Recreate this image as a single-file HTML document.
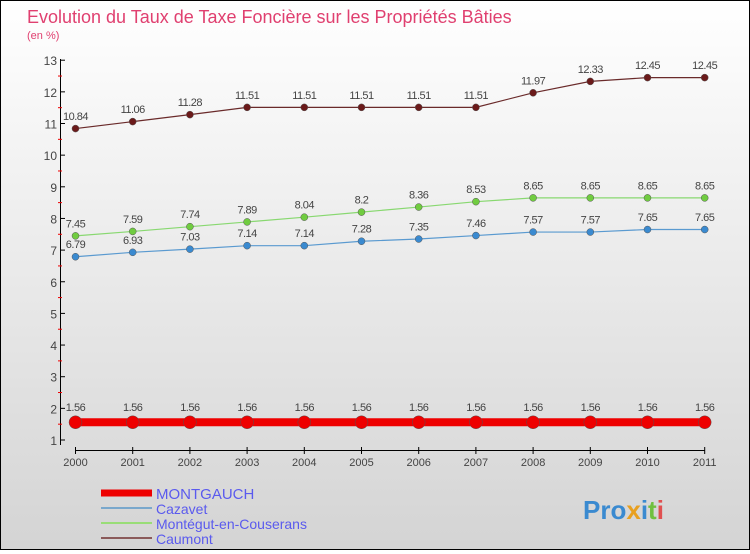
<!DOCTYPE html>
<html><head><meta charset="utf-8"><style>
body{margin:0}
#c{width:748px;height:548px;border:1px solid #000;background:linear-gradient(#fff,#d4d4d4);position:relative;font-family:"Liberation Sans",sans-serif}
</style></head><body>
<div id="c">
<svg width="748" height="548" xmlns="http://www.w3.org/2000/svg" id="s">
<text x="26" y="22" font-size="18" fill="#e04070">Evolution du Taux de Taxe Foncière sur les Propriétés Bâties</text>
<text x="26" y="38" font-size="11" fill="#e04070">(en %)</text>
<g id="g"></g>
<text x="582" y="518" font-size="26" font-weight="bold"><tspan fill="#3a8ad0">Pro</tspan><tspan fill="#e8a020">x</tspan><tspan fill="#3a8ad0">i</tspan><tspan fill="#70c040">t</tspan><tspan fill="#e05050">i</tspan></text>
</svg>
</div>
<script>
const years=["2000","2001","2002","2003","2004","2005","2006","2007","2008","2009","2010","2011"];
const yTicks=[1,2,3,4,5,6,7,8,9,10,11,12,13];
const montgauch=[1.56,1.56,1.56,1.56,1.56,1.56,1.56,1.56,1.56,1.56,1.56,1.56];
const cazavet=[6.79,6.93,7.03,7.14,7.14,7.28,7.35,7.46,7.57,7.57,7.65,7.65];
const montegut=[7.45,7.59,7.74,7.89,8.04,8.2,8.36,8.53,8.65,8.65,8.65,8.65];
const caumont=[10.84,11.06,11.28,11.51,11.51,11.51,11.51,11.51,11.97,12.33,12.45,12.45];
const NS="http://www.w3.org/2000/svg",g=document.getElementById('g');
const X=i=>74.5+i*57.2, Y=v=>439-(v-1)*31.65;
function el(t,a){const e=document.createElementNS(NS,t);for(const k in a)e.setAttribute(k,a[k]);g.appendChild(e);return e;}
let e=el('line',{x1:59.5,y1:58,x2:59.5,y2:444,stroke:'#000'});


e=el('line',{x1:X(0),y1:449.5,x2:X(11),y2:449.5,stroke:'#000'});


yTicks.forEach((v,i)=>{
 let t=el('line',{x1:59.5,x2:64,y1:Y(v),y2:Y(v),stroke:'#000'});
 
 
 if(i<yTicks.length-1){let m=el('line',{x1:57,x2:61,y1:Y(v+0.5),y2:Y(v+0.5),stroke:'#e00'});
 
 }
 let l=el('text',{x:56,y:Y(v)+5,'font-size':12,'text-anchor':'end',fill:'#444'});l.textContent=v;
 
 
});
years.forEach((y,i)=>{
 let t=el('line',{x1:X(i),x2:X(i),y1:446,y2:453,stroke:'#000'});
 
 
 let l=el('text',{x:X(i),y:465,'font-size':11,'text-anchor':'middle',fill:'#444'});l.textContent=y;
 
 
});
function series(d,col,dot,w,r,name){
 let p=el('polyline',{points:d.map((v,i)=>X(i)+','+Y(v)).join(' '),fill:'none',stroke:col,'stroke-width':w});
 
 
 d.forEach((v,i)=>{
  let c=el('circle',{cx:X(i),cy:Y(v),r:r,fill:dot,stroke:'#555','stroke-width':0.5});
  
  
  let t=el('text',{x:X(i),y:Y(v)-(r+5),'font-size':11,'text-anchor':'middle',fill:'#444','letter-spacing':'-0.5'});t.textContent=v;
  
  
 });
}
series(caumont,'#6a2a2a','#6b1a1a',1.2,3.5,'caumont');
series(montegut,'#88d870','#70cc40',1.2,3.5,'montegut');
series(cazavet,'#5a9ad0','#3a8ad0',1.2,3.5,'cazavet');
series(montgauch,'#ee0000','#ee0000',8,6.5,'montgauch');
const leg=[['MONTGAUCH','#ee0000',7],['Cazavet','#7aa8cc',2],['Montégut-en-Couserans','#99dd77',2],['Caumont','#8a5a5a',2]];
leg.forEach((l,i)=>{
 let y=492+i*15;
 let ln=el('line',{x1:100,x2:151,y1:y,y2:y,stroke:l[1],'stroke-width':l[2]});
 
 
 let t=el('text',{x:155,y:y+6,'font-size':i==0?15:14,fill:'#5a5aee'});t.textContent=l[0];
 
 
});
</script>
</body></html>
